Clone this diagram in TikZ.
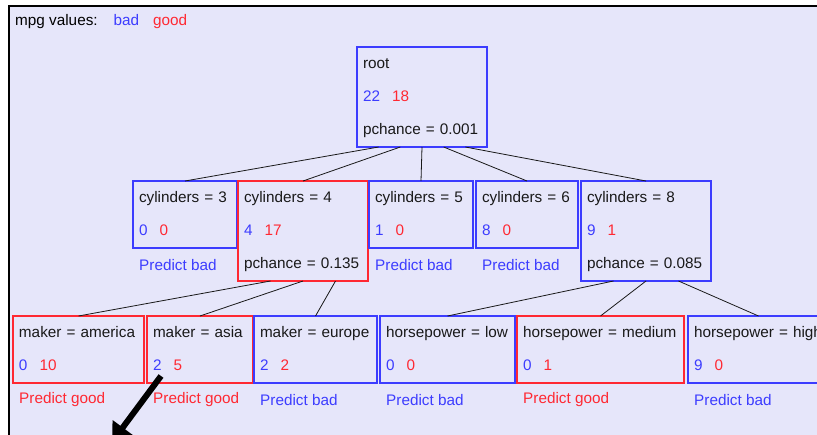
\documentclass[tikz,border=0pt]{standalone}
\usepackage{fontspec}
\setmainfont{Liberation Sans}
\usetikzlibrary{arrows.meta, positioning, calc}

\definecolor{bad}{RGB}{60,60,255}
\definecolor{good}{RGB}{255,40,50}
\definecolor{panel}{RGB}{230,230,250}
\definecolor{ink}{RGB}{25,25,25}

\newcommand{\rowstrut}{\rule[-12pt]{0pt}{33pt}}
\newcommand{\counts}[2]{\textcolor{bad}{#1}\hspace{12pt}\textcolor{good}{#2}}

\tikzset{
  treenode/.style={draw, anchor=north west, inner xsep=6pt, inner ysep=0pt, outer sep=0pt, align=left,
    text=ink, line width=1.2pt, font=\fontsize{15.3}{33}\selectfont,
    execute at begin node=\rowstrut, execute at end node=\rowstrut},
  badnode/.style={treenode, draw=bad},
  goodnode/.style={treenode, draw=good},
  leaf/.style={anchor=west, inner sep=0pt, font=\fontsize{15.3}{18}\selectfont},
  link/.style={draw=ink, line width=0.8pt},
  pointer/.style={line width=6pt, -{Triangle[length=18pt, width=24pt]}},
}

\begin{document}
\begin{tikzpicture}[x=1pt, y=-1pt]
        \path[use as bounding box] (0,0) rectangle (817,434);
        \clip (0,0) rectangle (817,434);
        \fill[panel] (9,6) rectangle (830,445);
        \draw[line width=1.5pt] (9,445) -- (9,6) -- (830,6);
        \node[leaf] (legend) at (15,22) {mpg values:\hspace{16pt}\textcolor{bad}{bad}\hspace{14pt}\textcolor{good}{good}};
        % root and first split
        \node[badnode, text width=118pt, minimum height=100pt] (root) at (357,47) {root\\ \counts{22}{18}\\ pchance = 0.001};
        \node[badnode, text width=92pt, minimum height=67pt] (cyl3) at (133,181) {cylinders = 3\\ \counts{0}{0}};
        \node[goodnode, text width=118pt, minimum height=100pt, right=1pt of cyl3.north east, anchor=north west] (cyl4) {cylinders = 4\\ \counts{4}{17}\\ pchance = 0.135};
        \node[badnode, text width=92pt, minimum height=67pt, right=1pt of cyl4.north east, anchor=north west] (cyl5) {cylinders = 5\\ \counts{1}{0}};
        \node[badnode, text width=90pt, minimum height=67pt, right=3pt of cyl5.north east, anchor=north west] (cyl6) {cylinders = 6\\ \counts{8}{0}};
        \node[badnode, text width=118pt, minimum height=100pt, right=3pt of cyl6.north east, anchor=north west] (cyl8) {cylinders = 8\\ \counts{9}{1}\\ pchance = 0.085};
        % second split
        \node[goodnode, text width=119pt, minimum height=67pt] (america) at (13,316) {maker = america\\ \counts{0}{10}};
        \node[goodnode, text width=94pt, minimum height=67pt, right=3pt of america.north east, anchor=north west] (asia) {maker = asia\\ \counts{2}{5}};
        \node[badnode, text width=111pt, minimum height=67pt, right=1pt of asia.north east, anchor=north west] (europe) {maker = europe\\ \counts{2}{2}};
        \node[badnode, text width=123pt, minimum height=67pt, right=3pt of europe.north east, anchor=north west] (hplow) {horsepower = low\\ \counts{0}{0}};
        \node[goodnode, text width=155pt, minimum height=67pt, right=2pt of hplow.north east, anchor=north west] (hpmed) {horsepower = medium\\ \counts{0}{1}};
        \node[badnode, text width=129pt, minimum height=67pt, right=4pt of hpmed.north east, anchor=north west] (hphigh) {horsepower = high\\ \counts{9}{0}};
        % predictions
        \node[leaf, text=bad] (pcyl3) at ($(cyl3.south west)+(6,17)$) {Predict bad};
        \node[leaf, text=bad] (pcyl5) at ($(cyl5.south west)+(6,17)$) {Predict bad};
        \node[leaf, text=bad] (pcyl6) at ($(cyl6.south west)+(6,17)$) {Predict bad};
        \node[leaf, text=good] (pamerica) at ($(america.south west)+(6,17)$) {Predict good};
        \node[leaf, text=good] (pasia) at ($(asia.south west)+(6,17)$) {Predict good};
        \node[leaf, text=bad] (peurope) at ($(europe.south west)+(6,17)$) {Predict bad};
        \node[leaf, text=bad] (phplow) at ($(hplow.south west)+(6,17)$) {Predict bad};
        \node[leaf, text=good] (phpmed) at ($(hpmed.south west)+(6,17)$) {Predict good};
        \node[leaf, text=bad] (phphigh) at ($(hphigh.south west)+(6,17)$) {Predict bad};
        % links
        \draw[link] ($(root.south west)!1/6!(root.south east)$) -- (cyl3.north);
        \draw[link] ($(root.south west)!2/6!(root.south east)$) -- (cyl4.north);
        \draw[link] ($(root.south west)!3/6!(root.south east)$) -- (cyl5.north);
        \draw[link] ($(root.south west)!4/6!(root.south east)$) -- (cyl6.north);
        \draw[link] ($(root.south west)!5/6!(root.south east)$) -- (cyl8.north);
        \draw[link] ($(cyl4.south west)!1/4!(cyl4.south east)$) -- (america.north);
        \draw[link] ($(cyl4.south west)!2/4!(cyl4.south east)$) -- (asia.north);
        \draw[link] ($(cyl4.south west)!3/4!(cyl4.south east)$) -- (europe.north);
        \draw[link] ($(cyl8.south west)!1/4!(cyl8.south east)$) -- (hplow.north);
        \draw[link] ($(cyl8.south west)!2/4!(cyl8.south east)$) -- (hpmed.north);
        \draw[link] ($(cyl8.south west)!3/4!(cyl8.south east)$) -- (hphigh.north);
        % pointer
        \coordinate (pointtop) at (161,376);
        \coordinate (pointtip) at (112,442);
        \draw[pointer] (pointtop) -- (pointtip);
\end{tikzpicture}
\end{document}
